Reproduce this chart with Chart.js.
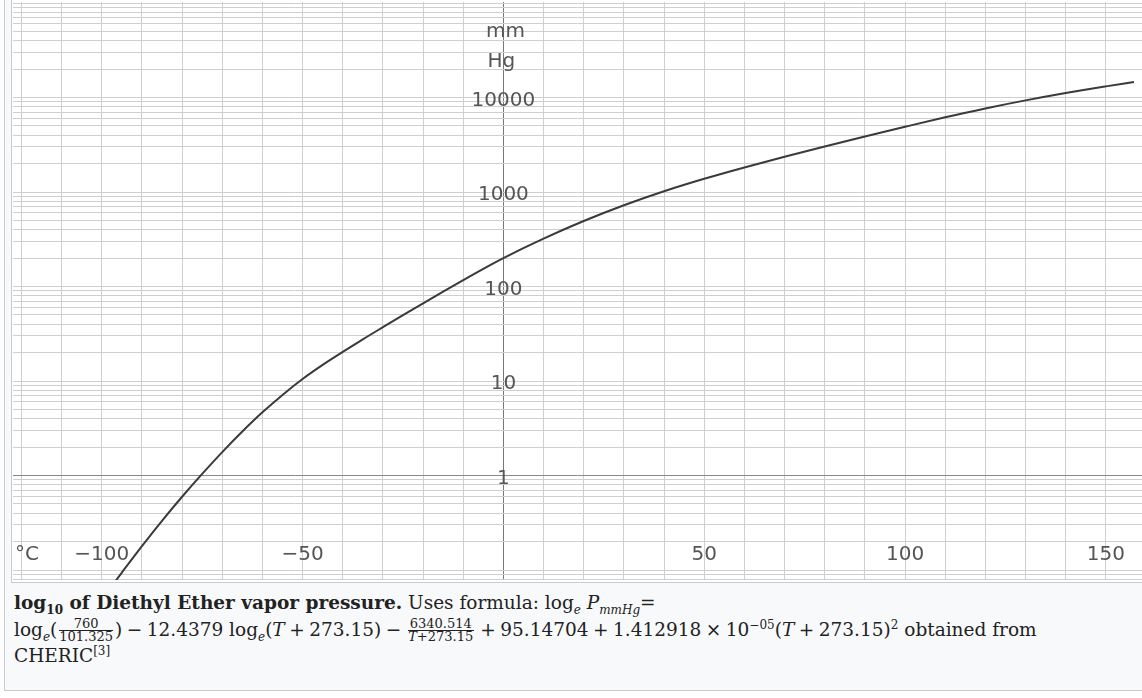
<!DOCTYPE html>
<html>
<head>
<meta charset="utf-8">
<script src="https://cdn.jsdelivr.net/npm/chart.js@4.4.1/dist/chart.umd.min.js"></script>
<style>
  html, body { margin: 0; padding: 0; background: #fff; overflow: hidden; width: 1142px; height: 698px; }
  .thumb { position: absolute; left: 4px; top: -4px; width: 1160px; height: 693px; border: 1px solid #c8ccd1; background: #f8f9fa; }
  .plot { position: absolute; left: 11px; top: -2px; width: 1140px; height: 583px; background: #fff; border: 1px solid #c8ccd1; }
  #wrap { position: absolute; left: 13px; top: 0; width: 1129px; height: 582px; }
  .caption { position: absolute; left: 14px; top: 590px; width: 1120px; font-family: 'DejaVu Serif', serif; font-size: 18.5px; line-height: 26.5px; color: #222; white-space: nowrap; }
  .frac { display: inline-flex; flex-direction: column; vertical-align: middle; text-align: center; font-size: 13px; line-height: 12px; margin: 0 2px; }
  .frac span:first-child { border-bottom: 1px solid #222; padding: 0 2px; }
  .op { margin: 0 4.5px; }
  sub, sup { font-size: 12px; line-height: 0; }
</style>
</head>
<body>
<div class="thumb"></div>
<div class="plot"></div>
<div id="wrap"><canvas id="vp"></canvas></div>
<div class="caption">
  <div><b>log<sub>10</sub> of Diethyl Ether vapor pressure.</b> Uses formula: log<sub><i>e</i></sub> <i>P</i><sub><i>mmHg</i></sub>=</div>
  <div>log<sub><i>e</i></sub>(<span class="frac"><span>760</span><span>101.325</span></span>)<span class="op">−</span>12.4379 log<sub><i>e</i></sub>(<i>T</i><span class="op">+</span>273.15)<span class="op">−</span><span class="frac"><span>6340.514</span><span><i>T</i>+273.15</span></span><span class="op">+</span>95.14704<span class="op">+</span>1.412918<span class="op">×</span>10<sup>−05</sup>(<i>T</i><span class="op">+</span>273.15)<sup>2</sup> obtained from</div>
  <div>CHERIC<sup>[3]</sup></div>
</div>
<script>
// temperature in °C, vapour pressure in mmHg
const temps = [-98, -95, -90, -85, -80, -75, -70, -65, -60, -55, -50, -45, -40, -35, -30, -25, -20, -15, -10, -5, 0,
  10, 20, 30, 40, 50, 60, 70, 80, 90, 100, 110, 120, 130, 140, 150, 157];
const pressure = [0.0634, 0.094, 0.179, 0.332, 0.596, 1.04, 1.77, 2.92, 4.66, 7.13, 10.5, 14.8, 20.3, 27.6, 37.1, 49.7, 66.4, 88.3, 117, 154, 200,
  321, 493, 724, 1019, 1380, 1820, 2360, 3030, 3870, 4900, 6170, 7660, 9330, 11170, 13120, 14590];

const xLabels = [-100, -50, 50, 100, 150];
const yLabels = [1, 10, 100, 1000, 10000];
const yUnit = ['mm', 'Hg'];
const xUnit = '°C';

const gridColor = '#cfcfcf';

const axisText = {
  id: 'axisText',
  afterDraw(chart) {
    const { ctx, chartArea } = chart;
    const x = chart.scales.x;
    const y = chart.scales.y;
    const x0 = x.getPixelForValue(0);
    ctx.save();
    ctx.font = '20px "DejaVu Sans"';
    ctx.fillStyle = '#555';
    ctx.textAlign = 'center';
    ctx.textBaseline = 'middle';
    yLabels.forEach(v => ctx.fillText(String(v), x0, y.getPixelForValue(v) + 3));
    ctx.textBaseline = 'alphabetic';
    ctx.fillText(yUnit[0], x0 + 2, 37);
    ctx.fillText(yUnit[1], x0 - 2, 67);
    ctx.textBaseline = 'middle';
    xLabels.forEach(v => ctx.fillText(v < 0 ? '\u2212' + Math.abs(v) : String(v), x.getPixelForValue(v), chartArea.bottom - 25));
    ctx.textAlign = 'left';
    ctx.fillText(xUnit, chartArea.left + 2, chartArea.bottom - 25);
    ctx.restore();
  }
};

new Chart(document.getElementById('vp'), {
  type: 'line',
  data: {
    datasets: [{
      data: temps.map((t, i) => ({ x: t, y: pressure[i] })),
      borderColor: '#3a3a3a',
      borderWidth: 2,
      pointRadius: 0,
      cubicInterpolationMode: 'monotone',
      fill: false
    }]
  },
  options: {
    responsive: true,
    maintainAspectRatio: false,
    animation: false,
    events: [],
    layout: { padding: { top: 2, bottom: 2 } },
    plugins: { legend: { display: false }, tooltip: { enabled: false } },
    scales: {
      x: {
        type: 'linear',
        min: -122.1,
        max: 159,
        border: { display: false },
        grid: {
          drawTicks: false,
          color: ctx => ctx.tick && ctx.tick.value === 0 ? '#777' : gridColor
        },
        ticks: { display: false },
        afterBuildTicks(scale) {
          const t = [];
          for (let v = -120; v <= 150; v += 10) t.push({ value: v });
          scale.ticks = t;
        }
      },
      y: {
        type: 'logarithmic',
        min: 0.0784,
        max: 102500,
        border: { display: false },
        grid: {
          drawTicks: false,
          color: ctx => ctx.tick && ctx.tick.value === 1 ? '#8a8a8a' : gridColor
        },
        ticks: { display: false },
        afterBuildTicks(scale) {
          const t = [];
          for (let e = -2; e <= 5; e++) {
            for (let k = 1; k <= 9; k++) {
              const v = k * Math.pow(10, e);
              if (v >= scale.min && v <= scale.max) t.push({ value: v });
            }
          }
          scale.ticks = t;
        }
      }
    }
  },
  plugins: [axisText]
});
</script>
</body>
</html>
